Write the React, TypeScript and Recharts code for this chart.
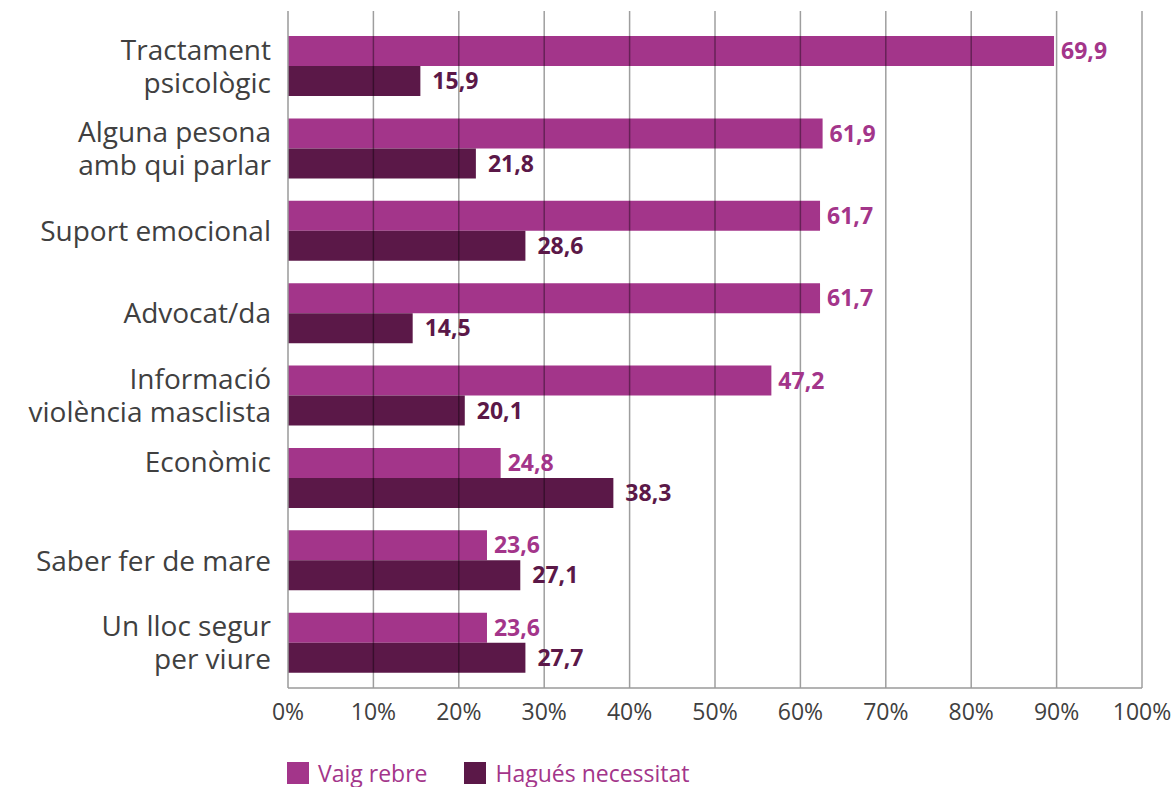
import {
  Bar,
  BarChart,
  LabelList,
  Legend,
  ReferenceLine,
  XAxis,
  YAxis,
} from "recharts";

const categories = [
  "Tractament\npsicològic",
  "Alguna pesona\namb qui parlar",
  "Suport emocional",
  "Advocat/da",
  "Informació\nviolència masclista",
  "Econòmic\n",
  "Saber fer de mare",
  "Un lloc segur\nper viure",
];

// bar lengths as drawn in the picture (% of axis)
const vaigRebre = [89.7, 62.6, 62.3, 62.3, 56.6, 24.9, 23.3, 23.3];
const haguesNecessitat = [15.5, 22.0, 27.8, 14.6, 20.7, 38.1, 27.2, 27.8];

// printed values next to the bars
const vaigRebreLabels = ["69,9", "61,9", "61,7", "61,7", "47,2", "24,8", "23,6", "23,6"];
const haguesLabels = ["15,9", "21,8", "28,6", "14,5", "20,1", "38,3", "27,1", "27,7"];

const xTicks = [0, 10, 20, 30, 40, 50, 60, 70, 80, 90, 100];

const MAGENTA = "#a3358a";
const DARK = "#5b1848";
const TEXT = "#404040";
const FONT = "'Open Sans', sans-serif";

const data = categories.map((category, i) => ({
  category,
  rebre: vaigRebre[i],
  necessitat: haguesNecessitat[i],
  rebreLabel: vaigRebreLabels[i],
  necessitatLabel: haguesLabels[i],
}));

function CategoryTick({ x, y, payload }: any) {
  const lines = String(payload.value).split("\n");
  const lh = 33;
  const start = y - ((lines.length - 1) * lh) / 2;
  return (
    <text
      x={x}
      y={start}
      textAnchor="end"
      fill={TEXT}
      fontSize={28}
      fontFamily={FONT}
    >
      {lines.map((line, i) => (
        <tspan key={i} x={x} y={start + i * lh} dy="0.36em">
          {line}
        </tspan>
      ))}
    </text>
  );
}

function LegendContent() {
  const items = [
    { label: "Vaig rebre", color: MAGENTA },
    { label: "Hagués necessitat", color: DARK },
  ];
  return (
    <div style={{ display: "flex", alignItems: "center", paddingTop: 22 }}>
      {items.map((it) => (
        <div
          key={it.label}
          style={{ display: "flex", alignItems: "center", marginRight: 37 }}
        >
          <span
            style={{
              width: 22,
              height: 22,
              background: it.color,
              display: "inline-block",
              marginRight: 9,
            }}
          />
          <span
            style={{
              color: MAGENTA,
              fontFamily: FONT,
              fontSize: 23,
              lineHeight: "22px",
            }}
          >
            {it.label}
          </span>
        </div>
      ))}
    </div>
  );
}

export default function App() {
  return (
    <div style={{ position: "absolute", left: 0, top: 0, background: "#fff" }}>
      <BarChart
        width={1176}
        height={787}
        data={data}
        layout="vertical"
        barSize={30}
        barGap={0}
        margin={{ top: 11, right: 34, bottom: 0, left: 0 }}
      >
        <XAxis
          type="number"
          domain={[0, 100]}
          ticks={xTicks}
          interval={0}
          tickFormatter={(v) => `${v}%`}
          tickLine={false}
          axisLine={{ stroke: "#9a9a9a", strokeWidth: 1.5 }}
          tick={{ fill: TEXT, fontSize: 23, fontFamily: FONT }}
          tickMargin={10}
          height={52}
        />
        <YAxis
          type="category"
          dataKey="category"
          width={288}
          tickLine={false}
          axisLine={{ stroke: "#9a9a9a", strokeWidth: 1.5 }}
          tick={<CategoryTick />}
          tickMargin={11}
          padding={{ top: 14, bottom: 4 }}
        />
        <Legend
          verticalAlign="bottom"
          align="left"
          height={47}
          content={<LegendContent />}
          wrapperStyle={{ left: 287 }}
        />
        <Bar dataKey="rebre" fill={MAGENTA} isAnimationActive={false}>
          <LabelList
            dataKey="rebreLabel"
            position="right"
            offset={7}
            fill={MAGENTA}
            fontSize={23}
            fontWeight={700}
            fontFamily={FONT}
          />
        </Bar>
        <Bar dataKey="necessitat" fill={DARK} isAnimationActive={false}>
          <LabelList
            dataKey="necessitatLabel"
            position="right"
            offset={12}
            fill={DARK}
            fontSize={23}
            fontWeight={700}
            fontFamily={FONT}
          />
        </Bar>
        {xTicks.slice(1).map((t) => (
          <ReferenceLine
            key={t}
            x={t}
            stroke="#000"
            strokeOpacity={0.38}
            strokeWidth={1.5}
          />
        ))}
      </BarChart>
    </div>
  );
}
